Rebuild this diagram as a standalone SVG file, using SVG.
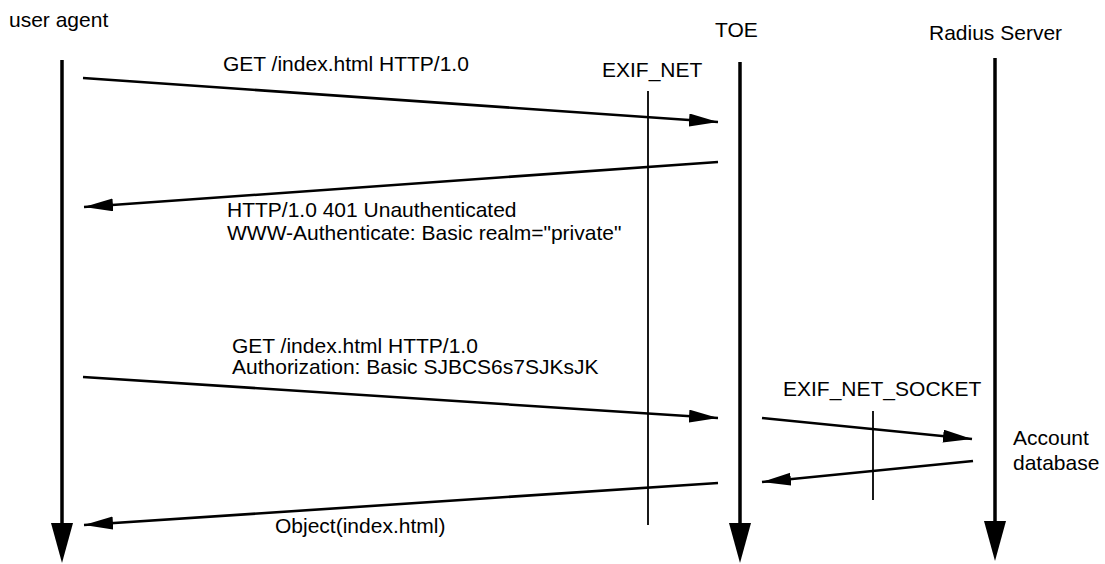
<svg xmlns="http://www.w3.org/2000/svg" width="1105" height="564" viewBox="0 0 1105 564">
  <style>
    text { font-family: "Liberation Sans", Arial, sans-serif; font-size: 21px; fill: #000; }
    .life { stroke: #000; stroke-width: 3.5; fill: none; }
    .msg { stroke: #000; stroke-width: 2.6; fill: none; }
    .iface { stroke: #000; stroke-width: 1.8; fill: none; }
  </style>
  <defs>
    <marker id="lifeHead" markerUnits="userSpaceOnUse" markerWidth="42" markerHeight="24" refX="6" refY="11" orient="auto" viewBox="0 0 42 24">
      <path d="M0,0 L40,11 L0,22 z" fill="#000"/>
    </marker>
    <marker id="msgHead" markerUnits="userSpaceOnUse" markerWidth="30" markerHeight="14" refX="29" refY="6.5" orient="auto" viewBox="0 0 30 14">
      <path d="M0,0 L29,6.5 L0,13 z" fill="#000"/>
    </marker>
  </defs>

  <rect width="1105" height="564" fill="#fff"/>

  <!-- participants -->
  <g id="user-agent">
    <text x="9" y="27">user agent</text>
    <line class="life" x1="62" y1="60" x2="62" y2="529" marker-end="url(#lifeHead)"/>
  </g>
  <g id="toe">
    <text x="715" y="37">TOE</text>
    <line class="life" x1="740" y1="62" x2="740" y2="529" marker-end="url(#lifeHead)"/>
  </g>
  <g id="radius-server">
    <text x="929" y="40">Radius Server</text>
    <line class="life" x1="995" y1="58" x2="995" y2="527" marker-end="url(#lifeHead)"/>
    <text x="1013" y="445">Account</text>
    <text x="1013" y="470">database</text>
  </g>
  <g id="exif-net">
    <text x="602" y="77">EXIF_NET</text>
    <line class="iface" x1="648" y1="91" x2="648" y2="525"/>
  </g>
  <g id="exif-net-socket">
    <text x="783" y="396">EXIF_NET_SOCKET</text>
    <line class="iface" x1="873" y1="411" x2="873" y2="500"/>
  </g>

  <!-- messages -->
  <g id="connectors">
    <line class="msg" x1="83" y1="78" x2="718" y2="122" marker-end="url(#msgHead)"/>
    <text x="223" y="71">GET /index.html HTTP/1.0</text>

    <line class="msg" x1="718" y1="162" x2="84" y2="207" marker-end="url(#msgHead)"/>
    <text x="227" y="217">HTTP/1.0 401 Unauthenticated</text>
    <text x="227" y="240">WWW-Authenticate: Basic realm="private"</text>

    <line class="msg" x1="83" y1="377" x2="718" y2="418" marker-end="url(#msgHead)"/>
    <text x="232" y="353">GET /index.html HTTP/1.0</text>
    <text x="232" y="374">Authorization: Basic SJBCS6s7SJKsJK</text>

    <line class="msg" x1="762" y1="418" x2="972" y2="439" marker-end="url(#msgHead)"/>
    <line class="msg" x1="973" y1="461" x2="762" y2="482" marker-end="url(#msgHead)"/>

    <line class="msg" x1="718" y1="483" x2="84" y2="525" marker-end="url(#msgHead)"/>
    <text x="275" y="533">Object(index.html)</text>
  </g>
</svg>
